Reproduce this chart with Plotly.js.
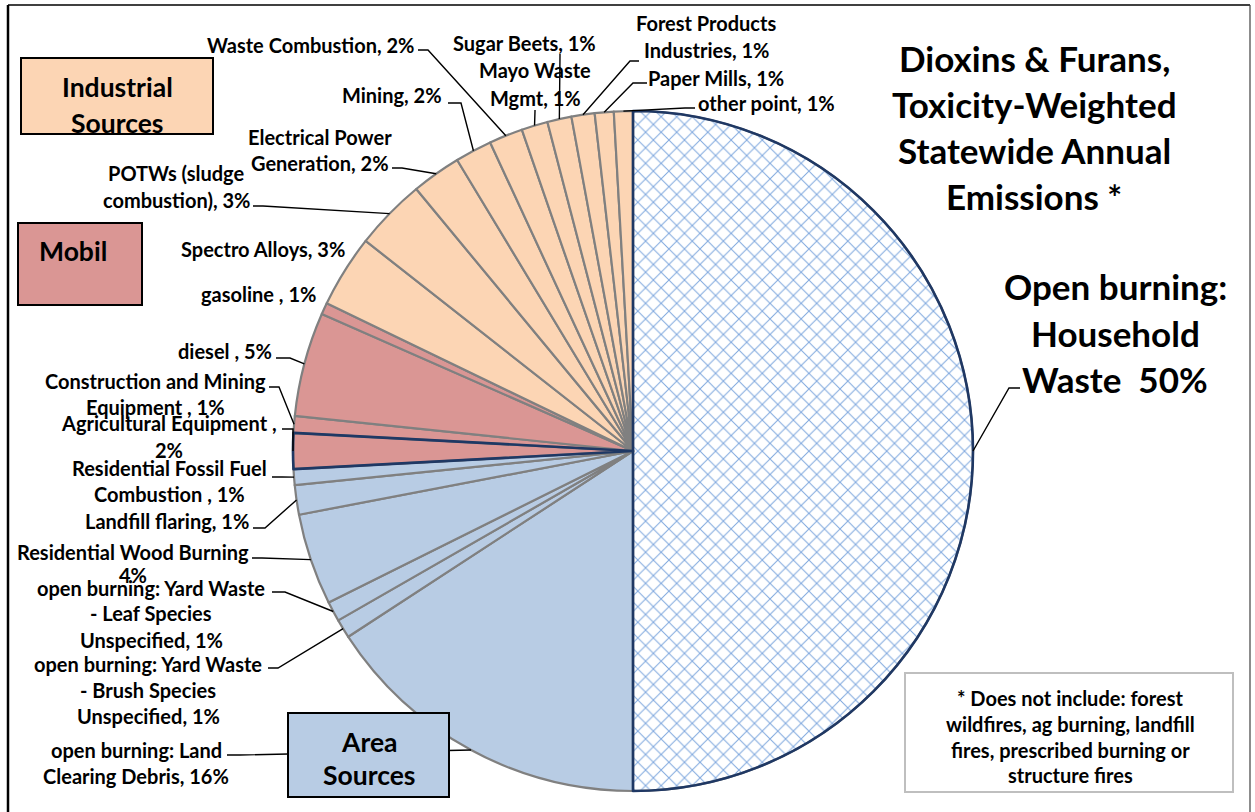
<!DOCTYPE html>
<html>
<head>
<meta charset="utf-8">
<script src="https://cdn.plot.ly/plotly-3.0.1.min.js"></script>
<style>
  html, body { margin: 0; padding: 0; background: #ffffff; }
  #chart { width: 1255px; height: 812px; }
</style>
</head>
<body>
<div id="chart"></div>
<script>
// ---------------- DATA ----------------
const sliceNames = [
  "Open burning: Household Waste",
  "open burning: Land Clearing Debris",
  "open burning: Yard Waste - Brush Species Unspecified",
  "open burning: Yard Waste - Leaf Species Unspecified",
  "Residential Wood Burning",
  "Landfill flaring",
  "Residential Fossil Fuel Combustion",
  "Agricultural Equipment",
  "Construction and Mining Equipment",
  "diesel",
  "gasoline",
  "Spectro Alloys",
  "POTWs (sludge combustion)",
  "Electrical Power Generation",
  "Mining",
  "Waste Combustion",
  "Mayo Waste Mgmt",
  "Sugar Beets",
  "Forest Products Industries",
  "Paper Mills",
  "other point"
];
const sliceValues = [50.0, 15.8, 0.9, 0.95, 4.35, 1.4, 0.75, 1.7, 0.8, 4.95, 0.55,
                     3.45, 3.4, 2.35, 1.75, 1.6, 1.25, 1.15, 1.1, 0.9, 0.9];
const sliceGroups = ["household", "area", "area", "area", "area", "area", "area",
                     "mobil", "mobil", "mobil", "mobil",
                     "industrial", "industrial", "industrial", "industrial", "industrial",
                     "industrial", "industrial", "industrial", "industrial", "industrial"];
// label text lines; {p} is replaced by the rounded percentage of the slice
const labelLines = [
  ["Open burning:", "Household", "Waste\u00a0 {p}%"],
  ["open burning: Land", "Clearing Debris, {p}%"],
  ["open burning: Yard Waste", "- Brush Species", "Unspecified, {p}%"],
  ["open burning: Yard Waste", "- Leaf Species", "Unspecified, {p}%"],
  ["Residential Wood Burning", "{p}%"],
  ["Landfill flaring, {p}%"],
  ["Residential Fossil Fuel", "Combustion , {p}%"],
  ["Agricultural Equipment ,", "{p}%"],
  ["Construction and Mining", "Equipment , {p}%"],
  ["diesel , {p}%"],
  ["gasoline , {p}%"],
  ["Spectro Alloys, {p}%"],
  ["POTWs (sludge", "combustion), {p}%"],
  ["Electrical Power", "Generation, {p}%"],
  ["Mining, {p}%"],
  ["Waste Combustion, {p}%"],
  ["Mayo Waste", "Mgmt, {p}%"],
  ["Sugar Beets, {p}%"],
  ["Forest Products", "Industries, {p}%"],
  ["Paper Mills, {p}%"],
  ["other point, {p}%"]
];
const titleLines = ["Dioxins & Furans,", "Toxicity-Weighted", "Statewide Annual", "Emissions *"];
const footnoteLines = ["* Does not include: forest", "wildfires, ag burning, landfill",
                       "fires, prescribed burning or", "structure fires"];
const groupBoxTexts = {industrial: ["Industrial", "Sources"], mobil: ["Mobil"], area: ["Area", "Sources"]};

// ---------------- STYLE / LAYOUT ----------------
const W = 1255, H = 812;
const groupColors = {household: "#ffffff", area: "#b8cce4", mobil: "#da9694", industrial: "#fcd5b4"};
const NAVY = "#1f3864";
const FONT = "Lato, 'Open Sans', sans-serif";
const LABEL_SIZE = 20, BIG_SIZE = 35, BOX_SIZE = 26.5;

// pie geometry (pixels)
const PCX = 633, PCY = 451, PR = 340;
const domX = [(PCX - PR) / W, (PCX + PR) / W];
const domY = [(H - (PCY + PR)) / H, (H - (PCY - PR)) / H];

// label placement: centre x, y of each line, leader start + elbow (pixels)
const labelPlace = [
  {cx: 1115, ys: [286, 333, 379], big: true, lead: [[1020, 388], [1009, 388]]},
  {cx: 136, ys: [750, 776], lead: [[227, 755], [240, 755]]},
  {cx: 148, ys: [664, 690, 716], lead: [[268, 668], [278, 668]]},
  {cx: 151, ys: [588, 613, 640], lead: [[272, 592], [285, 592]]},
  {cx: 133, ys: [552, 575], lead: [[252, 558], [262, 558]]},
  {cx: 167, ys: [521], lead: [[253, 528], [265, 528]]},
  {cx: 169, ys: [468, 494], lead: [[272, 477], [282, 477]]},
  {cx: 169, ys: [423, 450], lead: [[282, 429], [293, 429]]},
  {cx: 155, ys: [381, 407], lead: [[269, 387], [279, 387]]},
  {cx: 225, ys: [351], lead: [[276, 358], [290, 358]]},
  {cx: 258, ys: [294], lead: null},
  {cx: 263, ys: [249], lead: null},
  {cx: 176, ys: [173, 200], lead: [[253, 206], [263, 206]]},
  {cx: 320, ys: [137, 163], lead: [[392, 168], [402, 168]]},
  {cx: 392, ys: [95], lead: [[448, 103], [461, 103]]},
  {cx: 310, ys: [44.5], lead: [[418, 50], [428, 50]]},
  {cx: 535, ys: [70, 98], lead: [[535, 110], [535, 111]]},
  {cx: 524, ys: [43], lead: [[560, 54], [560, 55]]},
  {cx: 706, ys: [23, 50], lead: [[639, 61], [630, 61]]},
  {cx: 716, ys: [78], lead: [[647, 83], [633, 83]]},
  {cx: 766, ys: [103], lead: [[695, 108], [685, 108]]}
];

const px = x => x / W;
const py = y => 1 - y / H;

// ---------------- TRACES ----------------
const total = sliceValues.reduce((a, b) => a + b, 0);
const colors = sliceGroups.map(g => groupColors[g]);
const lineColors = sliceGroups.map(() => "#808080");
const patternShapes = sliceGroups.map(g => g === "household" ? "x" : "");

const pieMain = {
  type: "pie",
  labels: sliceNames,
  values: sliceValues,
  sort: false,
  direction: "clockwise",
  rotation: 0,
  domain: {x: domX, y: domY},
  textinfo: "none",
  hoverinfo: "label+percent",
  showlegend: false,
  marker: {
    colors: colors,
    line: {color: lineColors, width: 2.2},
    pattern: {shape: patternShapes, fgcolor: "#7ea7de", size: 11, solidity: 0.17, fillmode: "replace"}
  }
};
// overlay trace for the navy slice outlines
const navyWidths = sliceNames.map((n, i) => (i === 0 || n === "Agricultural Equipment") ? 2.6 : 0);
const pieOutline = {
  type: "pie",
  labels: sliceNames,
  values: sliceValues,
  sort: false,
  direction: "clockwise",
  rotation: 0,
  domain: {x: domX, y: domY},
  textinfo: "none",
  hoverinfo: "skip",
  showlegend: false,
  marker: {
    colors: sliceNames.map(() => "rgba(0,0,0,0)"),
    line: {color: NAVY, width: navyWidths}
  }
};

// ---------------- ANNOTATIONS & SHAPES ----------------
const annotations = [];
const shapes = [];
function addText(text, x, y, size, extra) {
  annotations.push(Object.assign({
    text: text, x: px(x), y: py(y), xref: "paper", yref: "paper",
    xanchor: "center", yanchor: "middle", showarrow: false,
    font: {family: FONT, size: size, color: "#000000", weight: "bold"}
  }, extra || {}));
}

// leader lines (drawn first so boxes can cover them)
let cum = 0;
sliceValues.forEach((v, i) => {
  const mid = (cum + v / 2) / total;
  cum += v;
  const place = labelPlace[i];
  if (!place.lead) return;
  const th = 2 * Math.PI * mid;
  const ex = PCX + PR * Math.sin(th);
  const ey = PCY - PR * Math.cos(th);
  const [s, e] = place.lead;
  shapes.push({
    type: "path", xref: "paper", yref: "paper", layer: "above",
    path: `M ${px(s[0])},${py(s[1])} L ${px(e[0])},${py(e[1])} L ${px(ex)},${py(ey)}`,
    line: {color: "#000000", width: 1.4}
  });
});

// slice labels
sliceValues.forEach((v, i) => {
  const pct = Math.round(v / total * 100 + 1e-9);
  const place = labelPlace[i];
  labelLines[i].forEach((ln, k) => {
    addText(ln.replace("{p}", pct), place.cx, place.ys[k], place.big ? BIG_SIZE : LABEL_SIZE);
  });
});

// title
const titleYs = [58, 104, 150, 196];
titleLines.forEach((t, k) => addText(t, 1034, titleYs[k], BIG_SIZE));

// group boxes
const boxes = [
  {g: "industrial", x0: 21, y0: 58, x1: 213, y1: 134, tx: 117, tys: [87, 123]},
  {g: "mobil", x0: 18, y0: 223, x1: 142, y1: 305, tx: 73, tys: [251]},
  {g: "area", x0: 288, y0: 713, x1: 449, y1: 797, tx: 369, tys: [742, 775]}
];
boxes.forEach(b => {
  shapes.push({type: "rect", xref: "paper", yref: "paper", layer: "above",
    x0: px(b.x0), x1: px(b.x1), y0: py(b.y1), y1: py(b.y0),
    fillcolor: groupColors[b.g], line: {color: "#000000", width: 2}});
  groupBoxTexts[b.g].forEach((t, k) => addText(t, b.tx, b.tys[k], BOX_SIZE));
});

// footnote box
shapes.push({type: "rect", xref: "paper", yref: "paper", layer: "above",
  x0: px(905), x1: px(1233), y0: py(792), y1: py(673),
  fillcolor: "#ffffff", line: {color: "#bfbfbf", width: 2}});
const footYs = [697.5, 724, 750, 775];
footnoteLines.forEach((t, k) => addText(t, 1070, footYs[k], LABEL_SIZE));

// outer frame
shapes.push({type: "line", xref: "paper", yref: "paper", layer: "above",
  x0: px(8), x1: px(8), y0: py(5), y1: py(812), line: {color: "#000000", width: 2.5}});
shapes.push({type: "line", xref: "paper", yref: "paper", layer: "above",
  x0: px(8), x1: px(1250), y0: py(5), y1: py(5), line: {color: "#000000", width: 1.5}});
shapes.push({type: "line", xref: "paper", yref: "paper", layer: "above",
  x0: px(1250), x1: px(1250), y0: py(5), y1: py(812), line: {color: "#404040", width: 1.2}});

const layout = {
  width: W, height: H,
  margin: {l: 0, r: 0, t: 0, b: 0, pad: 0},
  paper_bgcolor: "#ffffff",
  plot_bgcolor: "#ffffff",
  showlegend: false,
  annotations: annotations,
  shapes: shapes,
  font: {family: FONT}
};

Plotly.newPlot("chart", [pieMain, pieOutline], layout, {displayModeBar: false, staticPlot: true});
</script>
</body>
</html>
